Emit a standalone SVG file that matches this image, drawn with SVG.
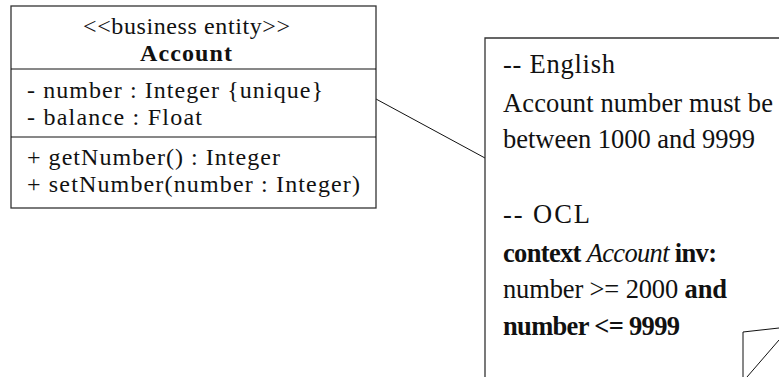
<svg xmlns="http://www.w3.org/2000/svg" width="779" height="377" viewBox="0 0 779 377">
<style>
.t{font-size:24px;fill:#111}
.n{font-size:26.5px;fill:#111}
.b{font-weight:bold}
.i{font-style:italic}
.box{fill:#fff;stroke:#333;stroke-width:1.3}
.ln{stroke:#111;stroke-width:1;fill:none}
</style>
<rect width="779" height="377" fill="#fff"/>
<g id="connectors">
<line class="ln" x1="376" y1="99" x2="485" y2="158"/>
</g>
<g id="account" font-family="Liberation Serif, Times New Roman, serif">
<rect class="box" x="11" y="6" width="365" height="202"/>
<line class="ln" x1="11" y1="69" x2="376" y2="69" stroke="#333"/>
<line class="ln" x1="11" y1="137" x2="376" y2="137" stroke="#333"/>
<text class="t" x="83" y="34" textLength="207">&lt;&lt;business entity&gt;&gt;</text>
<text class="t b" x="140" y="61" textLength="92">Account</text>
<text class="t" x="27" y="98" textLength="296">- number : Integer {unique}</text>
<text class="t" x="27" y="125" textLength="175">- balance : Float</text>
<text class="t" x="27" y="165" textLength="253">+ getNumber() : Integer</text>
<text class="t" x="27" y="192" textLength="333">+ setNumber(number : Integer)</text>
</g>
<g id="note" font-family="Liberation Serif, Times New Roman, serif">
<path class="box" d="M485,38 H790 V390 H485 Z"/>
<text class="n" x="503" y="73" textLength="112">-- English</text>
<text class="n" x="503" y="112" textLength="270">Account number must be</text>
<text class="n" x="503" y="148" textLength="252">between 1000 and 9999</text>
<text class="n" x="503" y="223" textLength="87">-- OCL</text>
<text class="n" x="503" y="262" textLength="214"><tspan class="b">context</tspan> <tspan class="i">Account</tspan> <tspan class="b">inv:</tspan></text>
<text class="n" x="503" y="298" textLength="224">number &gt;= 2000 <tspan class="b">and</tspan></text>
<text class="n b" x="503" y="335" textLength="177">number &lt;= 9999</text>
<path class="ln" d="M743,377 V332 L779,328 M747,377 L779,340"/>
</g>
</svg>
